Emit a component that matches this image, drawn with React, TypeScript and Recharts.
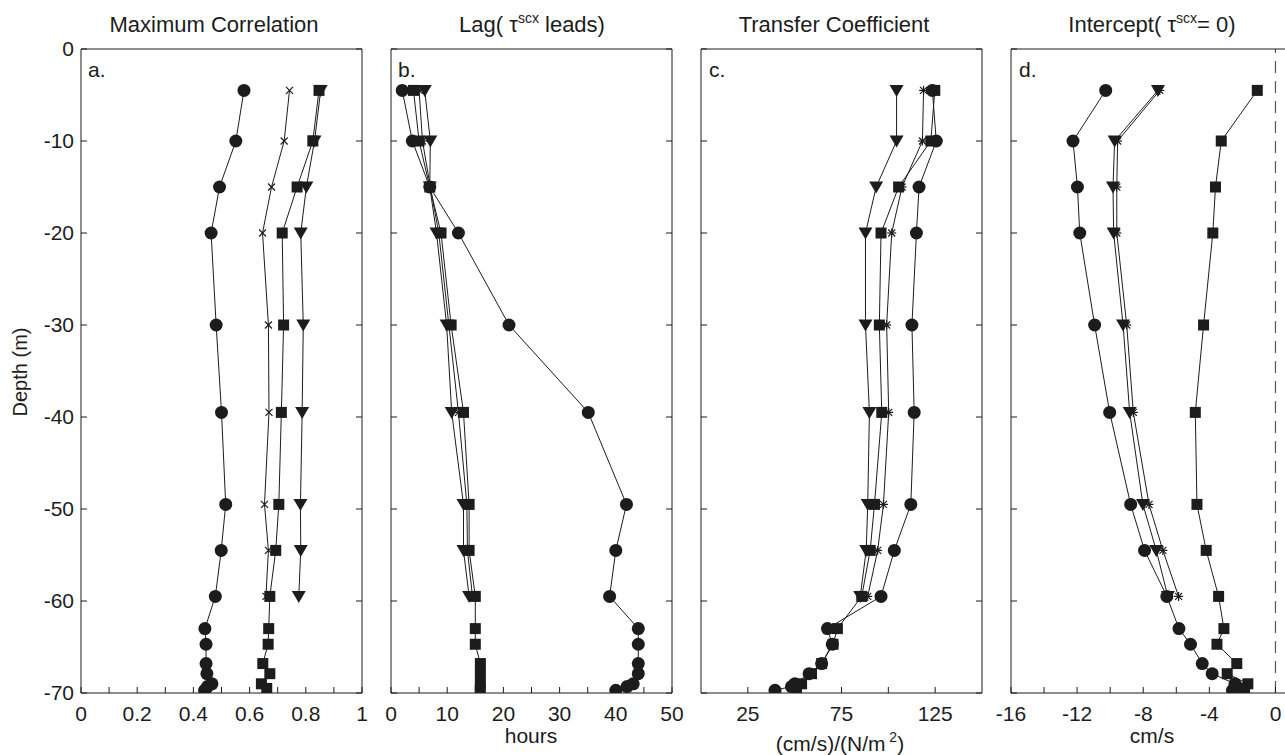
import React from 'react';
import { ScatterChart, Scatter, XAxis, YAxis, ReferenceLine } from 'recharts';

const INK = '#1c1c1c';
const FONT = '"Liberation Sans", Arial, Helvetica, sans-serif';

// depths (m) for each kind of series
const depthCircle = [-4.5, -10, -15, -20, -30, -39.5, -49.5, -54.5, -59.5, -63, -64.7, -66.8, -67.9, -69, -69.3, -69.7];
const depthSquare = [-4.5, -10, -15, -20, -30, -39.5, -49.5, -54.5, -59.5, -63, -64.7, -66.8, -67.9, -69, -69.5];
const depthShallow = [-4.5, -10, -15, -20, -30, -39.5, -49.5, -54.5, -59.5];
const depthTicks = [0, -10, -20, -30, -40, -50, -60, -70];

// a. maximum correlation
const corrCircle = [0.58, 0.551, 0.493, 0.463, 0.481, 0.5, 0.515, 0.499, 0.478, 0.441, 0.445, 0.445, 0.448, 0.466, 0.45, 0.44];
const corrCross = [0.742, 0.723, 0.678, 0.646, 0.667, 0.669, 0.653, 0.667, 0.658];
const corrSquare = [0.847, 0.825, 0.769, 0.716, 0.721, 0.713, 0.704, 0.693, 0.672, 0.668, 0.666, 0.647, 0.672, 0.642, 0.661];
const corrTri = [0.853, 0.831, 0.802, 0.782, 0.791, 0.787, 0.781, 0.782, 0.775];
const corrTicks = [0, 0.1, 0.2, 0.3, 0.4, 0.5, 0.6, 0.7, 0.8, 0.9, 1];
const corrLabels = [0, 0.2, 0.4, 0.6, 0.8, 1];

// b. lag (hours)
const lagCircle = [2, 3.8, 6.9, 12, 21, 35.1, 41.9, 40, 38.9, 44, 44, 44, 44, 43.1, 42, 40];
const lagCross = [5, 5.6, 7, 8.5, 10.3, 12, 13.5, 13.6, 14.5];
const lagSquare = [4, 5, 6.9, 8.9, 10.7, 12.9, 13.9, 13.9, 15, 15, 15, 15.9, 15.9, 15.9, 15.9];
const lagTri = [6, 7, 6.9, 8.1, 9.9, 10.8, 12.9, 12.9, 13.9];
const lagTicks = [0, 5, 10, 15, 20, 25, 30, 35, 40, 45, 50];
const lagLabels = [0, 10, 20, 30, 40, 50];

// c. transfer coefficient
const coefCircle = [123.5, 125.6, 116.4, 115, 112.6, 113.8, 112, 103.2, 96.1, 67.5, 70.1, 64.4, 57.7, 50.1, 48.3, 39.5];
const coefStar = [118.8, 118.2, 107.3, 101.8, 99.1, 100.2, 97.4, 94.3, 89];
const coefSquare = [124.8, 122.7, 105.5, 96.1, 95.2, 96.5, 92.6, 90.3, 85.8, 72.8, 70.5, 64.4, 59, 53.7, 51];
const coefTri = [104.4, 104.4, 93.5, 87.8, 87.8, 89.9, 89, 88.2, 85];
const coefTicks = [25, 50, 75, 100, 125];
const coefLabels = [25, 75, 125];

// d. intercept (cm/s)
const intCircle = [-10.27, -12.25, -11.98, -11.84, -10.94, -10.03, -8.76, -7.92, -6.57, -5.84, -5.14, -4.43, -3.83, -2.45, -2.35, -2.6];
const intStar = [-7.0, -9.55, -9.6, -9.6, -9.0, -8.6, -7.65, -6.81, -5.86];
const intSquare = [-1.1, -3.28, -3.63, -3.79, -4.35, -4.85, -4.75, -4.19, -3.44, -3.12, -3.54, -2.34, -2.92, -1.67, -1.87];
const intTri = [-7.11, -9.73, -9.83, -9.79, -9.22, -8.82, -8.02, -7.21, -6.51];
const intTicks = [-16, -14, -12, -10, -8, -6, -4, -2, 0];
const intLabels = [-16, -12, -8, -4, 0];

const PLOT_TOP = 49;
const PLOT_BOTTOM = 693;
const PLOT_W = 281;
const H = 755;

type Pt = { v: number; d: number };
const toPoints = (vals: number[], depths: number[]): Pt[] => vals.map((v, i) => ({ v, d: depths[i] }));

const circle = (p: any) => <circle cx={p.cx} cy={p.cy} r={6.5} fill={INK} />;
const square = (p: any) => <rect x={p.cx - 5.5} y={p.cy - 5.5} width={11} height={11} fill={INK} />;
const triangle = (p: any) => (
  <polygon points={`${p.cx - 7},${p.cy - 5.5} ${p.cx + 7},${p.cy - 5.5} ${p.cx},${p.cy + 6.5}`} fill={INK} />
);
const cross = (p: any) => (
  <g stroke={INK} strokeWidth={1.2}>
    <line x1={p.cx - 3.5} y1={p.cy - 3.5} x2={p.cx + 3.5} y2={p.cy + 3.5} />
    <line x1={p.cx - 3.5} y1={p.cy + 3.5} x2={p.cx + 3.5} y2={p.cy - 3.5} />
  </g>
);
const star = (p: any) => (
  <g stroke={INK} strokeWidth={1.2}>
    <line x1={p.cx - 3.5} y1={p.cy - 3.5} x2={p.cx + 3.5} y2={p.cy + 3.5} />
    <line x1={p.cx - 3.5} y1={p.cy + 3.5} x2={p.cx + 3.5} y2={p.cy - 3.5} />
    <line x1={p.cx} y1={p.cy - 4.5} x2={p.cx} y2={p.cy + 4.5} />
    <line x1={p.cx - 4.5} y1={p.cy} x2={p.cx + 4.5} y2={p.cy} />
  </g>
);

const textStyle = { fontFamily: FONT, fontSize: 21, fill: INK };

type Series = { data: Pt[]; shape: (p: any) => React.ReactElement };

function Panel(props: {
  left: number;
  ml: number;
  domain: [number, number];
  ticks: number[];
  labels: number[];
  series: Series[];
  showY?: boolean;
  zeroLine?: boolean;
}) {
  const { left, ml, domain, ticks, labels, series, showY, zeroLine } = props;
  const mr = 20;
  // each axis takes 1px, so the margins are one less
  return (
    <div style={{ position: 'absolute', left: left - ml, top: 0 }}>
      <ScatterChart
        width={ml + PLOT_W + mr}
        height={H}
        margin={{ top: PLOT_TOP - 1, bottom: H - PLOT_BOTTOM - 1, left: ml - 1, right: mr - 1 }}
      >
        <XAxis
          type="number"
          dataKey="v"
          domain={domain}
          ticks={ticks}
          interval={0}
          allowDataOverflow
          height={1}
          tickSize={0}
          tickMargin={0}
          tickLine={false}
          axisLine={{ stroke: INK }}
          tick={(p: any) => (
            <g key={`b${p.index}`}>
              <line x1={p.x} x2={p.x} y1={p.y - 6} y2={p.y} stroke={INK} />
              {labels.includes(p.payload.value) && (
                <text x={p.x} y={p.y + 28} textAnchor="middle" style={textStyle}>
                  {String(p.payload.value)}
                </text>
              )}
            </g>
          )}
        />
        <XAxis
          xAxisId="top"
          orientation="top"
          type="number"
          domain={domain}
          ticks={ticks}
          interval={0}
          allowDataOverflow
          height={1}
          tickSize={0}
          tickMargin={0}
          tickLine={false}
          axisLine={{ stroke: INK }}
          tick={(p: any) => (
            <line key={`t${p.index}`} x1={p.x} x2={p.x} y1={p.y} y2={p.y + 6} stroke={INK} />
          )}
        />
        <YAxis
          type="number"
          dataKey="d"
          domain={[-70, 0]}
          ticks={depthTicks}
          interval={0}
          allowDataOverflow
          width={1}
          tickSize={0}
          tickMargin={7}
          tickLine={false}
          axisLine={{ stroke: INK }}
          tick={(p: any) => (
            <g key={`l${p.index}`}>
              <line x1={p.x + 7} x2={p.x + 13} y1={p.y} y2={p.y} stroke={INK} />
              {showY && (
                <text x={p.x} y={p.y} dy="0.35em" textAnchor="end" style={textStyle}>
                  {String(p.payload.value)}
                </text>
              )}
            </g>
          )}
        />
        <YAxis
          yAxisId="right"
          orientation="right"
          type="number"
          domain={[-70, 0]}
          ticks={depthTicks}
          interval={0}
          allowDataOverflow
          width={1}
          tickSize={0}
          tickMargin={0}
          tickLine={false}
          axisLine={{ stroke: INK }}
          tick={(p: any) => (
            <line key={`r${p.index}`} x1={p.x - 6} x2={p.x} y1={p.y} y2={p.y} stroke={INK} />
          )}
        />
        {zeroLine && <ReferenceLine x={0} stroke="#555" strokeWidth={1.2} strokeDasharray="12 8" />}
        {series.map((s, i) => (
          <Scatter
            key={i}
            data={s.data}
            shape={s.shape}
            line={{ stroke: INK, strokeWidth: 1 }}
            isAnimationActive={false}
          />
        ))}
      </ScatterChart>
    </div>
  );
}

export default function App() {
  return (
    <div style={{ position: 'absolute', left: 0, top: 0, width: 1285, height: H, overflow: 'hidden', background: '#fff' }}>
      <Panel
        left={81}
        ml={81}
        domain={[0, 1]}
        ticks={corrTicks}
        labels={corrLabels}
        showY
        series={[
          { data: toPoints(corrCircle, depthCircle), shape: circle },
          { data: toPoints(corrCross, depthShallow), shape: cross },
          { data: toPoints(corrSquare, depthSquare), shape: square },
          { data: toPoints(corrTri, depthShallow), shape: triangle },
        ]}
      />
      <Panel
        left={391}
        ml={30}
        domain={[0, 50]}
        ticks={lagTicks}
        labels={lagLabels}
        series={[
          { data: toPoints(lagCircle, depthCircle), shape: circle },
          { data: toPoints(lagCross, depthShallow), shape: star },
          { data: toPoints(lagSquare, depthSquare), shape: square },
          { data: toPoints(lagTri, depthShallow), shape: triangle },
        ]}
      />
      <Panel
        left={701}
        ml={30}
        domain={[0, 150]}
        ticks={coefTicks}
        labels={coefLabels}
        series={[
          { data: toPoints(coefCircle, depthCircle), shape: circle },
          { data: toPoints(coefStar, depthShallow), shape: star },
          { data: toPoints(coefSquare, depthSquare), shape: square },
          { data: toPoints(coefTri, depthShallow), shape: triangle },
        ]}
      />
      <Panel
        left={1011}
        ml={30}
        domain={[-16, 1]}
        ticks={intTicks}
        labels={intLabels}
        zeroLine
        series={[
          { data: toPoints(intCircle, depthCircle), shape: circle },
          { data: toPoints(intStar, depthShallow), shape: star },
          { data: toPoints(intSquare, depthSquare), shape: square },
          { data: toPoints(intTri, depthShallow), shape: triangle },
        ]}
      />
      <svg width={1285} height={H} style={{ position: 'absolute', left: 0, top: 0, pointerEvents: 'none' }}>
        <g style={{ fontFamily: FONT, fill: INK }}>
          <text x={214} y={32} textAnchor="middle" fontSize={22}>Maximum Correlation</text>
          <text x={532} y={32} textAnchor="middle" fontSize={22}>
            Lag( τ<tspan fontSize={14} dy={-9}>scx</tspan>
            <tspan dy={9}> leads)</tspan>
          </text>
          <text x={834} y={32} textAnchor="middle" fontSize={22}>Transfer Coefficient</text>
          <text x={1152} y={32} textAnchor="middle" fontSize={22}>
            Intercept(  τ<tspan fontSize={14} dy={-9}>scx</tspan>
            <tspan dy={9}>= 0)</tspan>
          </text>
          <text x={88} y={77} fontSize={21}>a.</text>
          <text x={398} y={77} fontSize={21}>b.</text>
          <text x={709} y={77} fontSize={21}>c.</text>
          <text x={1019} y={77} fontSize={21}>d.</text>
          <text x={531} y={743} textAnchor="middle" fontSize={21}>hours</text>
          <text x={840} y={751} textAnchor="middle" fontSize={21}>
            (cm/s)/(N/m<tspan fontSize={14} dy={-9}> 2</tspan>
            <tspan dy={9}>)</tspan>
          </text>
          <text x={1152} y={743} textAnchor="middle" fontSize={21}>cm/s</text>
          <text transform="translate(27,372) rotate(-90)" textAnchor="middle" fontSize={20}>Depth (m)</text>
        </g>
      </svg>
    </div>
  );
}
